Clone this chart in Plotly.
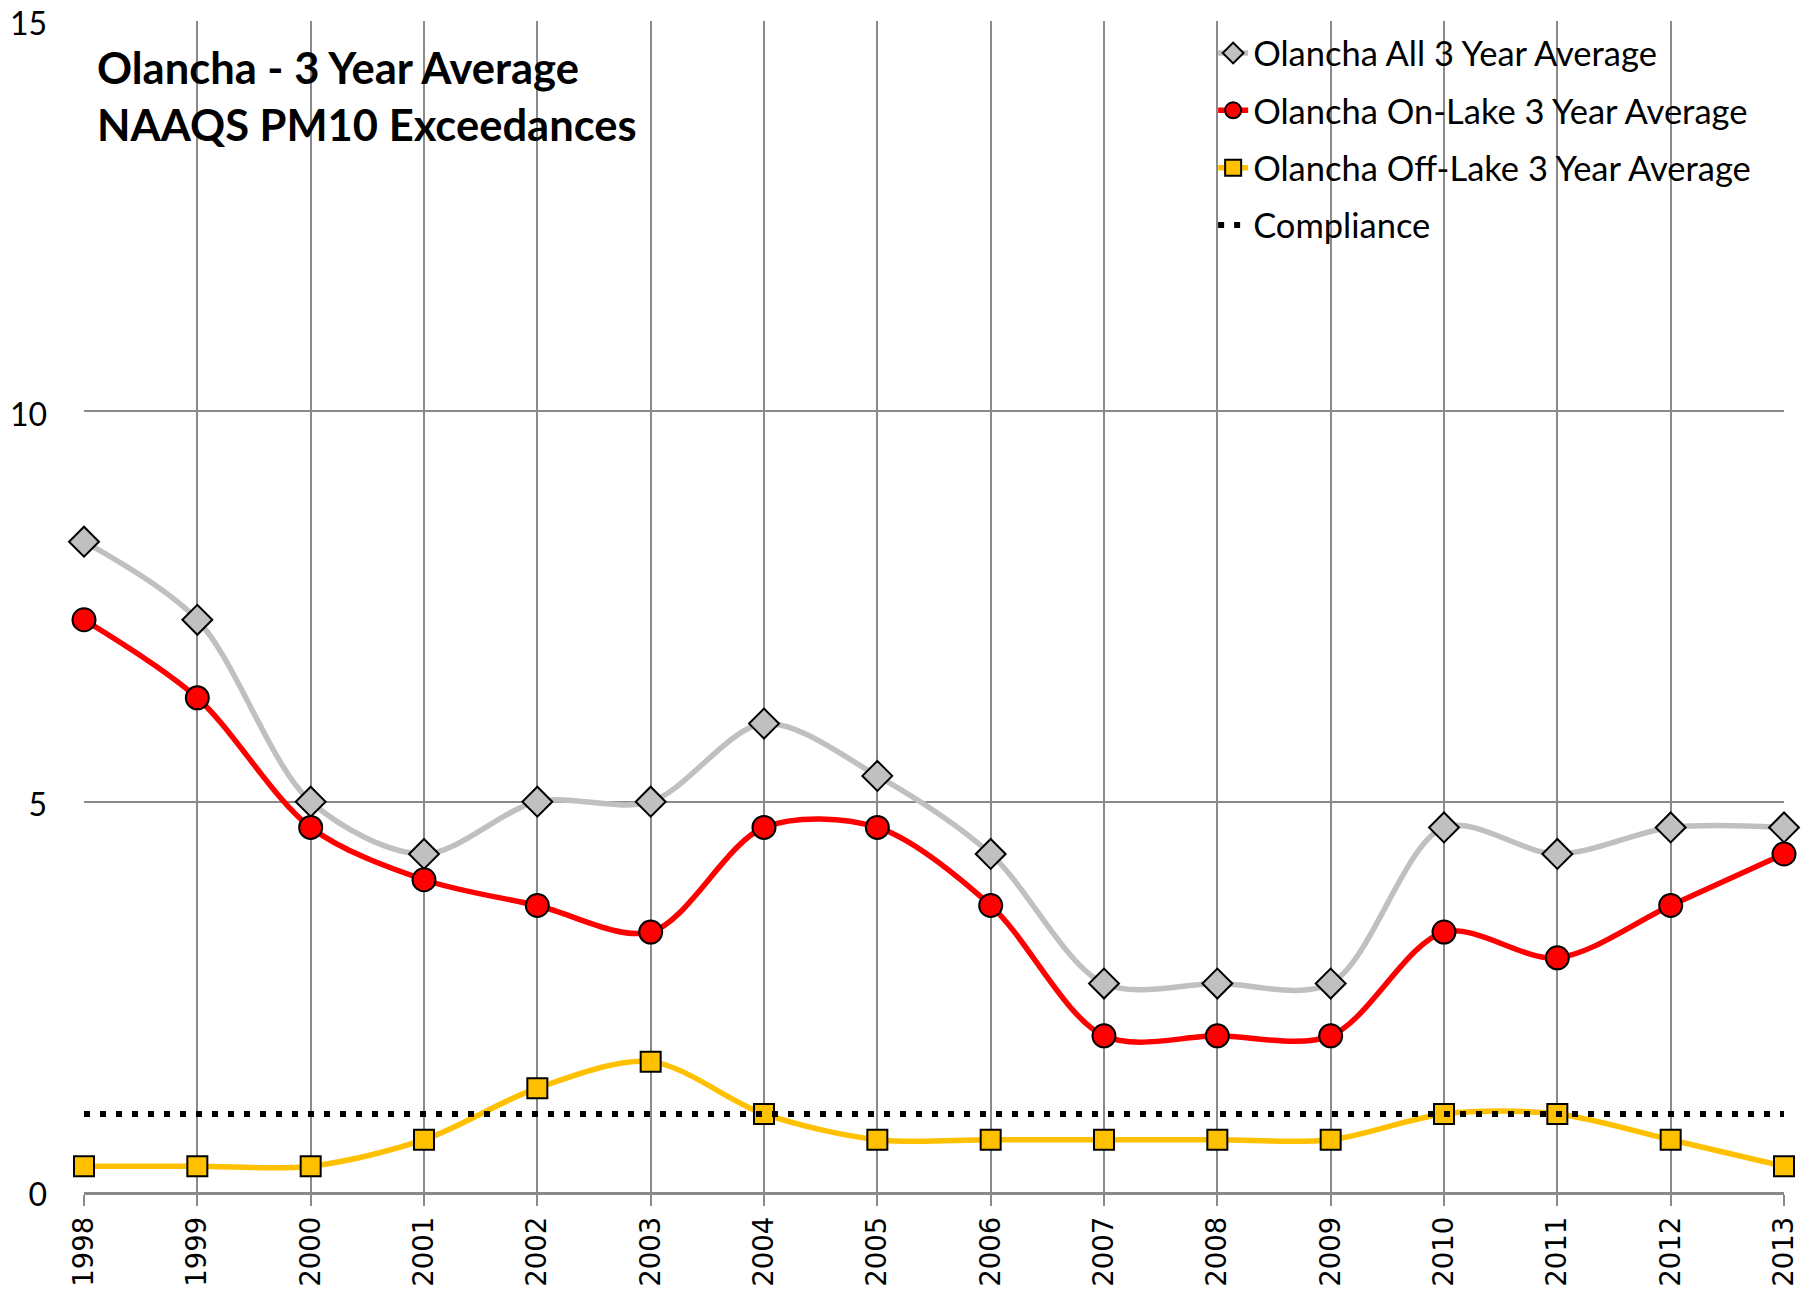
import plotly.graph_objects as go

years = list(range(1998, 2014))
all_avg = [8.33, 7.33, 5.0, 4.33, 5.0, 5.0, 6.0, 5.33, 4.33, 2.67, 2.67, 2.67, 4.67, 4.33, 4.67, 4.67]
on_lake = [7.33, 6.33, 4.67, 4.0, 3.67, 3.33, 4.67, 4.67, 3.67, 2.0, 2.0, 2.0, 3.33, 3.0, 3.67, 4.33]
off_lake = [0.33, 0.33, 0.33, 0.67, 1.33, 1.67, 1.0, 0.67, 0.67, 0.67, 0.67, 0.67, 1.0, 1.0, 0.67, 0.33]
compliance = [1.0] * 16

names = ["Olancha All 3 Year Average", "Olancha On-Lake 3 Year Average",
         "Olancha Off-Lake 3 Year Average", "Compliance"]
title_lines = ["Olancha - 3 Year Average", "NAAQS PM10 Exceedances"]
y_ticks = [0, 5, 10, 15]

GRID = "#8a8a8a"
fig = go.Figure()

fig.add_trace(go.Scatter(
    x=years, y=all_avg, name=names[0], mode="lines+markers", legendgroup="a",
    line=dict(color="#C0C0C0", width=5.5, shape="spline", smoothing=0.9),
    marker=dict(symbol="diamond", size=23, color="#C0C0C0", line=dict(color="black", width=2)),
    cliponaxis=False))
fig.add_trace(go.Scatter(
    x=years, y=on_lake, name=names[1], mode="lines+markers", legendgroup="b",
    line=dict(color="#FF0000", width=5.5, shape="spline", smoothing=0.9),
    marker=dict(symbol="circle", size=23, color="#FF0000", line=dict(color="black", width=2)),
    cliponaxis=False))
fig.add_trace(go.Scatter(
    x=years, y=off_lake, name=names[2], mode="lines+markers", legendgroup="c",
    line=dict(color="#FFC000", width=5.5, shape="spline", smoothing=0.9),
    marker=dict(symbol="square", size=20, color="#FFC000", line=dict(color="black", width=2)),
    cliponaxis=False))
fig.add_trace(go.Scatter(
    x=years, y=compliance, name=names[3], mode="lines", legendgroup="d",
    line=dict(color="black", width=6, dash="6px,10px"),
    cliponaxis=False))

fig.add_annotation(
    xref="paper", yref="paper", x=0.0066, y=0.985, xanchor="left", yanchor="top",
    text="<b>" + "<br>".join(title_lines) + "</b>", showarrow=False, align="left",
    font=dict(family="Lato", size=43.5, color="black"))

fig.update_layout(
    width=1812, height=1285,
    margin=dict(l=76, r=36, t=13, b=101, autoexpand=False),
    paper_bgcolor="white", plot_bgcolor="white",
    font=dict(family="Lato", color="black"),
    showlegend=True,
    legend=dict(x=0.6642, y=0.9974, xanchor="left", yanchor="top",
                bgcolor="rgba(0,0,0,0)", font=dict(family="Lato", size=34.5),
                tracegroupgap=9.5, traceorder="grouped"),
    xaxis=dict(range=[1998, 2013], tickmode="array", tickvals=years,
               ticktext=[str(y) for y in years], tickangle=-90,
               tickfont=dict(family="DejaVu Sans", size=27.5, color="black"),
               showgrid=True, gridcolor=GRID, gridwidth=1.5,
               showline=True, linecolor=GRID, linewidth=2.5,
               ticks="outside", ticklen=11, tickcolor=GRID, tickwidth=1.5,
               ticklabelstandoff=0, zeroline=False, automargin=False,
               ticklabeloverflow="allow"),
    yaxis=dict(range=[0, 15], tickmode="array", tickvals=y_ticks,
               tickfont=dict(family="Lato", size=32, color="black"),
               showgrid=True, gridcolor=GRID, gridwidth=1.5,
               showline=False, zeroline=False, ticks="",
               ticklabelstandoff=36, ticklabelshift=3, automargin=False,
               ticklabeloverflow="allow"),
)

fig.write_html("out.html")
